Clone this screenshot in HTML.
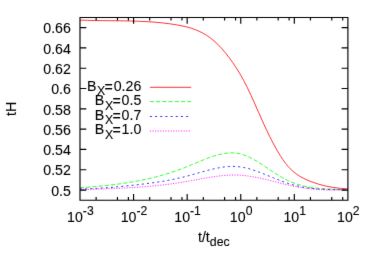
<!DOCTYPE html>
<html><head><meta charset="utf-8"><title>plot</title>
<style>
html,body{margin:0;padding:0;background:#fff;}
svg{display:block;}
text{font-family:"Liberation Sans",sans-serif;font-size:14.7px;fill:#000;stroke:#000;stroke-width:0.1px;}
</style></head><body>
<svg width="374" height="262" viewBox="0 0 374 262">
<defs><filter id="b" x="0" y="0" width="374" height="262" filterUnits="userSpaceOnUse" color-interpolation-filters="sRGB"><feConvolveMatrix order="3" kernelMatrix="0.00524 0.06192 0.00524 0.06192 0.73137 0.06192 0.00524 0.06192 0.00524" preserveAlpha="false" edgeMode="none"/></filter></defs>
<rect x="0" y="0" width="374" height="262" fill="#fff"/>
<g filter="url(#b)">

<g fill="none" stroke-width="0.8" stroke-linejoin="round">
<path d="M80.00,20.10 C82.48,20.21 84.96,20.29 87.44,20.36 C89.92,20.42 92.40,20.48 94.88,20.52 C97.36,20.56 99.84,20.60 102.33,20.63 C104.81,20.65 107.29,20.68 109.77,20.70 C112.25,20.72 114.73,20.75 117.21,20.78 C119.69,20.80 122.17,20.84 124.65,20.88 C127.13,20.92 129.61,20.97 132.09,21.04 C134.57,21.11 137.05,21.19 139.53,21.29 C142.01,21.39 144.49,21.51 146.97,21.65 C149.46,21.80 151.94,21.97 154.42,22.17 C156.90,22.36 159.38,22.59 161.86,22.85 C164.34,23.11 166.82,23.41 169.30,23.74 C171.78,24.08 174.26,24.45 176.74,24.87 C179.22,25.29 181.70,25.75 184.18,26.32 C186.66,26.88 189.14,27.54 191.62,28.34 C194.11,29.14 196.59,30.09 199.07,31.24 C201.55,32.38 204.03,33.71 206.51,35.29 C208.99,36.87 211.47,38.69 213.95,40.81 C216.43,42.92 218.91,45.34 221.39,48.10 C223.87,50.85 226.35,53.92 228.83,57.22 C231.31,60.51 233.79,64.03 236.28,67.88 C238.76,71.73 241.24,75.91 243.72,80.53 C246.20,85.15 248.68,90.26 251.16,95.67 C253.64,101.07 256.12,106.74 258.60,112.38 C261.08,118.02 263.56,123.62 266.04,128.92 C268.52,134.22 271.00,139.25 273.48,143.90 C275.96,148.56 278.44,152.85 280.92,156.68 C283.41,160.51 285.89,163.87 288.37,166.67 C290.85,169.48 293.33,171.73 295.81,173.59 C298.29,175.46 300.77,176.93 303.25,178.19 C305.73,179.45 308.21,180.50 310.69,181.47 C313.17,182.44 315.65,183.30 318.13,184.05 C320.61,184.81 323.09,185.47 325.57,186.04 C328.06,186.60 330.54,187.08 333.02,187.46 C335.50,187.85 337.98,188.16 340.46,188.39 C342.94,188.62 345.42,188.77 347.90,188.86" stroke="#ff0000"/>
<path d="M80.00,187.80 C82.48,187.62 84.96,187.43 87.44,187.23 C89.92,187.03 92.40,186.82 94.88,186.60 C97.36,186.38 99.84,186.15 102.33,185.90 C104.81,185.65 107.29,185.38 109.77,185.10 C112.25,184.81 114.73,184.51 117.21,184.18 C119.69,183.86 122.17,183.51 124.65,183.13 C127.13,182.76 129.61,182.36 132.09,181.94 C134.57,181.51 137.05,181.06 139.53,180.57 C142.01,180.09 144.49,179.57 146.97,179.02 C149.46,178.47 151.94,177.88 154.42,177.26 C156.90,176.64 159.38,175.98 161.86,175.28 C164.34,174.58 166.82,173.84 169.30,173.05 C171.78,172.27 174.26,171.44 176.74,170.57 C179.22,169.70 181.70,168.78 184.18,167.81 C186.66,166.84 189.14,165.81 191.62,164.78 C194.11,163.74 196.59,162.68 199.07,161.65 C201.55,160.61 204.03,159.60 206.51,158.65 C208.99,157.69 211.47,156.80 213.95,156.01 C216.43,155.22 218.91,154.53 221.39,154.01 C223.87,153.48 226.35,153.11 228.83,152.95 C231.31,152.79 233.79,152.84 236.28,153.15 C238.76,153.46 241.24,154.05 243.72,154.90 C246.20,155.75 248.68,156.84 251.16,158.11 C253.64,159.38 256.12,160.81 258.60,162.35 C261.08,163.89 263.56,165.53 266.04,167.20 C268.52,168.87 271.00,170.56 273.48,172.20 C275.96,173.83 278.44,175.41 280.92,176.84 C283.41,178.28 285.89,179.58 288.37,180.73 C290.85,181.88 293.33,182.88 295.81,183.73 C298.29,184.59 300.77,185.30 303.25,185.90 C305.73,186.49 308.21,186.97 310.69,187.37 C313.17,187.76 315.65,188.07 318.13,188.31 C320.61,188.55 323.09,188.73 325.57,188.88 C328.06,189.02 330.54,189.13 333.02,189.23 C335.50,189.32 337.98,189.41 340.46,189.52 C342.94,189.62 345.42,189.74 347.90,189.91" stroke="#00ff00" stroke-dasharray="4.14 2.07"/>
<path d="M80.00,188.97 C82.48,188.94 84.96,188.88 87.44,188.80 C89.92,188.72 92.40,188.61 94.88,188.48 C97.36,188.36 99.84,188.21 102.33,188.04 C104.81,187.88 107.29,187.69 109.77,187.49 C112.25,187.29 114.73,187.08 117.21,186.85 C119.69,186.62 122.17,186.37 124.65,186.12 C127.13,185.86 129.61,185.60 132.09,185.32 C134.57,185.05 137.05,184.77 139.53,184.48 C142.01,184.19 144.49,183.89 146.97,183.57 C149.46,183.25 151.94,182.92 154.42,182.56 C156.90,182.20 159.38,181.83 161.86,181.42 C164.34,181.01 166.82,180.58 169.30,180.11 C171.78,179.64 174.26,179.14 176.74,178.60 C179.22,178.06 181.70,177.48 184.18,176.85 C186.66,176.23 189.14,175.55 191.62,174.86 C194.11,174.17 196.59,173.45 199.07,172.74 C201.55,172.04 204.03,171.34 206.51,170.67 C208.99,170.01 211.47,169.38 213.95,168.82 C216.43,168.26 218.91,167.77 221.39,167.38 C223.87,166.99 226.35,166.70 228.83,166.55 C231.31,166.39 233.79,166.37 236.28,166.52 C238.76,166.66 241.24,166.99 243.72,167.48 C246.20,167.97 248.68,168.62 251.16,169.37 C253.64,170.13 256.12,170.99 258.60,171.92 C261.08,172.85 263.56,173.84 266.04,174.85 C268.52,175.85 271.00,176.88 273.48,177.89 C275.96,178.89 278.44,179.89 280.92,180.83 C283.41,181.77 285.89,182.66 288.37,183.47 C290.85,184.28 293.33,184.99 295.81,185.61 C298.29,186.23 300.77,186.75 303.25,187.19 C305.73,187.63 308.21,187.99 310.69,188.29 C313.17,188.59 315.65,188.82 318.13,189.00 C320.61,189.18 323.09,189.32 325.57,189.41 C328.06,189.51 330.54,189.57 333.02,189.61 C335.50,189.65 337.98,189.66 340.46,189.68 C342.94,189.69 345.42,189.69 347.90,189.71" stroke="#0000ff" stroke-dasharray="2.07 3.1"/>
<path d="M80.00,189.59 C82.48,189.52 84.96,189.44 87.44,189.37 C89.92,189.30 92.40,189.22 94.88,189.15 C97.36,189.07 99.84,188.99 102.33,188.91 C104.81,188.82 107.29,188.73 109.77,188.64 C112.25,188.54 114.73,188.44 117.21,188.33 C119.69,188.23 122.17,188.11 124.65,187.98 C127.13,187.85 129.61,187.71 132.09,187.56 C134.57,187.41 137.05,187.25 139.53,187.07 C142.01,186.89 144.49,186.70 146.97,186.49 C149.46,186.29 151.94,186.06 154.42,185.82 C156.90,185.58 159.38,185.32 161.86,185.04 C164.34,184.76 166.82,184.46 169.30,184.13 C171.78,183.81 174.26,183.47 176.74,183.10 C179.22,182.73 181.70,182.34 184.18,181.92 C186.66,181.50 189.14,181.05 191.62,180.60 C194.11,180.14 196.59,179.67 199.07,179.21 C201.55,178.75 204.03,178.30 206.51,177.87 C208.99,177.44 211.47,177.03 213.95,176.67 C216.43,176.31 218.91,175.99 221.39,175.73 C223.87,175.47 226.35,175.27 228.83,175.15 C231.31,175.03 233.79,174.98 236.28,175.03 C238.76,175.08 241.24,175.23 243.72,175.48 C246.20,175.72 248.68,176.06 251.16,176.46 C253.64,176.87 256.12,177.34 258.60,177.87 C261.08,178.39 263.56,178.96 266.04,179.56 C268.52,180.16 271.00,180.78 273.48,181.41 C275.96,182.03 278.44,182.67 280.92,183.28 C283.41,183.90 285.89,184.49 288.37,185.05 C290.85,185.61 293.33,186.13 295.81,186.60 C298.29,187.06 300.77,187.48 303.25,187.85 C305.73,188.22 308.21,188.54 310.69,188.81 C313.17,189.09 315.65,189.31 318.13,189.49 C320.61,189.67 323.09,189.80 325.57,189.89 C328.06,189.98 330.54,190.02 333.02,190.02 C335.50,190.01 337.98,189.96 340.46,189.87 C342.94,189.77 345.42,189.64 347.90,189.45" stroke="#ff00ff" stroke-width="0.85" stroke-dasharray="1.15 1.44"/>
<path d="M149.9,87.3 L191.2,87.3" stroke="#ff0000"/>
<path d="M149.9,101.6 L191.2,101.6" stroke="#00ff00" stroke-dasharray="4.14 2.07"/>
<path d="M149.9,116.5 L191.2,116.5" stroke="#0000ff" stroke-dasharray="2.07 3.1"/>
<path d="M149.9,131.0 L191.2,131.0" stroke="#ff00ff" stroke-dasharray="1.15 1.44" stroke-width="0.85"/>
</g>
<path d="M80.0,17.45 L347.9,17.45 L347.9,200.2 L80.0,200.2 Z M96.13,200.2 v-3.1 M96.13,17.45 v3.1 M117.45,200.2 v-3.1 M117.45,17.45 v3.1 M128.39,200.2 v-3.1 M128.39,17.45 v3.1 M133.58,200.2 v-6.3 M133.58,17.45 v6.3 M149.71,200.2 v-3.1 M149.71,17.45 v3.1 M171.03,200.2 v-3.1 M171.03,17.45 v3.1 M181.97,200.2 v-3.1 M181.97,17.45 v3.1 M187.16,200.2 v-6.3 M187.16,17.45 v6.3 M203.29,200.2 v-3.1 M203.29,17.45 v3.1 M224.61,200.2 v-3.1 M224.61,17.45 v3.1 M235.55,200.2 v-3.1 M235.55,17.45 v3.1 M240.74,200.2 v-6.3 M240.74,17.45 v6.3 M256.87,200.2 v-3.1 M256.87,17.45 v3.1 M278.19,200.2 v-3.1 M278.19,17.45 v3.1 M289.13,200.2 v-3.1 M289.13,17.45 v3.1 M294.32,200.2 v-6.3 M294.32,17.45 v6.3 M310.45,200.2 v-3.1 M310.45,17.45 v3.1 M331.77,200.2 v-3.1 M331.77,17.45 v3.1 M342.71,200.2 v-3.1 M342.71,17.45 v3.1 M347.90,200.2 v-6.3 M347.90,17.45 v6.3 M80.0,190.05 h6.3 M347.9,190.05 h-6.3 M80.0,169.74 h6.3 M347.9,169.74 h-6.3 M80.0,149.44 h6.3 M347.9,149.44 h-6.3 M80.0,129.13 h6.3 M347.9,129.13 h-6.3 M80.0,108.83 h6.3 M347.9,108.83 h-6.3 M80.0,88.52 h6.3 M347.9,88.52 h-6.3 M80.0,68.21 h6.3 M347.9,68.21 h-6.3 M80.0,47.91 h6.3 M347.9,47.91 h-6.3 M80.0,27.60 h6.3 M347.9,27.60 h-6.3" fill="none" stroke="#000" stroke-width="1.15"/>
<text transform="translate(70.9,195.80) scale(0.965,1)" text-anchor="end">0.5</text>
<text transform="translate(70.9,175.49) scale(0.965,1)" text-anchor="end">0.52</text>
<text transform="translate(70.9,155.19) scale(0.965,1)" text-anchor="end">0.54</text>
<text transform="translate(70.9,134.88) scale(0.965,1)" text-anchor="end">0.56</text>
<text transform="translate(70.9,114.58) scale(0.965,1)" text-anchor="end">0.58</text>
<text transform="translate(70.9,94.27) scale(0.965,1)" text-anchor="end">0.6</text>
<text transform="translate(70.9,73.96) scale(0.965,1)" text-anchor="end">0.62</text>
<text transform="translate(70.9,53.66) scale(0.965,1)" text-anchor="end">0.64</text>
<text transform="translate(70.9,33.35) scale(0.965,1)" text-anchor="end">0.66</text>
<text transform="translate(80.40,222.1) scale(0.965,1)" text-anchor="middle">10<tspan dy="-7.3" font-size="12.64">-3</tspan></text>
<text transform="translate(133.98,222.1) scale(0.965,1)" text-anchor="middle">10<tspan dy="-7.3" font-size="12.64">-2</tspan></text>
<text transform="translate(187.56,222.1) scale(0.965,1)" text-anchor="middle">10<tspan dy="-7.3" font-size="12.64">-1</tspan></text>
<text transform="translate(241.14,222.1) scale(0.965,1)" text-anchor="middle">10<tspan dy="-7.3" font-size="12.64">0</tspan></text>
<text transform="translate(294.72,222.1) scale(0.965,1)" text-anchor="middle">10<tspan dy="-7.3" font-size="12.64">1</tspan></text>
<text transform="translate(348.30,222.1) scale(0.965,1)" text-anchor="middle">10<tspan dy="-7.3" font-size="12.64">2</tspan></text>
<text transform="translate(213.8,241.5) scale(0.965,1)" text-anchor="middle">t/t<tspan dy="4.0" font-size="12.79">dec</tspan></text>
<text transform="translate(16.4,108.8) rotate(-90) scale(0.965,1)" text-anchor="middle">tH</text>
<text transform="translate(141.3,90.6) scale(0.965,1)" text-anchor="end">B<tspan dx="0.6" dy="4.6" font-size="12.79">X</tspan><tspan dx="-0.7" dy="-3.4">=</tspan><tspan dx="0.9" dy="-1.2">0.26</tspan></text>
<text transform="translate(141.3,105.1) scale(0.965,1)" text-anchor="end">B<tspan dx="0.6" dy="4.6" font-size="12.79">X</tspan><tspan dx="-0.7" dy="-3.4">=</tspan><tspan dx="0.9" dy="-1.2">0.5</tspan></text>
<text transform="translate(141.3,119.6) scale(0.965,1)" text-anchor="end">B<tspan dx="0.6" dy="4.6" font-size="12.79">X</tspan><tspan dx="-0.7" dy="-3.4">=</tspan><tspan dx="0.9" dy="-1.2">0.7</tspan></text>
<text transform="translate(141.3,134.1) scale(0.965,1)" text-anchor="end">B<tspan dx="0.6" dy="4.6" font-size="12.79">X</tspan><tspan dx="-0.7" dy="-3.4">=</tspan><tspan dx="0.9" dy="-1.2">1.0</tspan></text>
</g></svg></body></html>
